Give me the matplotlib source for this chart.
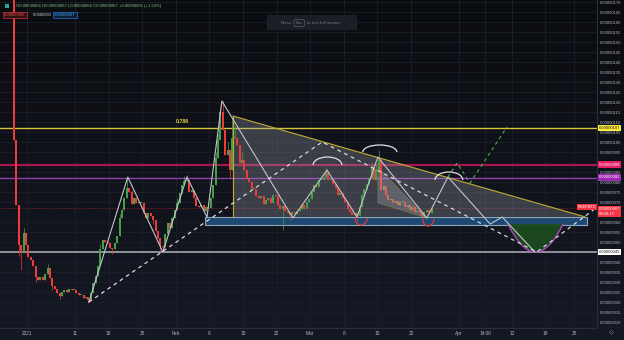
import numpy as np
import matplotlib
matplotlib.use("Agg")
import matplotlib.pyplot as plt
from matplotlib.patches import Arc, Rectangle, Polygon, PathPatch
from matplotlib.path import Path
from matplotlib.colors import LinearSegmentedColormap

plt.rcParams["font.family"] = ["Liberation Sans", "DejaVu Sans"]

W, H = 624, 340

# prices in units of 1e-8 BTC, time in days since 1 Jan 2021 (12h candles)
t_start = -2.7
open0 = 180
close = [101, 68.5, 48.5, 45, 54.5, 48.5, 42.5, 41, 38, 32.5,
         31, 32.5, 31, 34, 37, 32, 28, 26.5, 24.5, 23,
         25, 26, 25, 26.5, 26, 26, 24.5, 23.5, 23.5, 22,
         22.5, 21, 24.5, 29.5, 33, 38, 46.5, 51, 50, 49.5,
         47, 46.5, 49.5, 53, 62, 66, 72, 77, 75, 69,
         72, 69.5, 69.5, 69.5, 64.5, 62, 64.5, 63, 61, 55.5,
         52, 48, 47.5, 54, 59.5, 57, 62, 66, 69.5, 74.5,
         78.5, 80.5, 81, 75, 76, 72, 68, 67.5, 68.5, 65.5,
         67.5, 67, 72, 78.5, 92, 101, 115, 106, 93.5, 96,
         86, 102, 102, 98.5, 89.5, 91, 86, 81.5, 80, 76.5,
         76.5, 73, 72, 73, 69, 71, 72, 69.5, 73.5, 73,
         68.5, 66.5, 68, 65.5, 64.5, 63.5, 65, 64, 65.5, 66.5,
         68.5, 66.5, 70, 71.5, 75, 78.5, 77.5, 81, 81, 82.5,
         85, 81, 81, 79, 77, 73.5, 74.5, 72, 70, 66.5,
         65, 63.5, 64.5, 63, 67.5, 73.5, 76.5, 79, 82, 87.5,
         81, 86.5, 91, 76, 78, 73.5, 71, 71.5, 69.5, 70.5,
         68.5, 70, 70, 67.5, 68.5, 66, 67.5, 65, 65.5, 64.5,
         63, 65, 66, 64.5, 67]
wick_hi = {0: 186, 1: 100, 4: 57, 14: 39, 36: 49, 44: 64, 47: 82.5, 49: 76,
           68: 72, 71: 83, 72: 83.5, 84: 95, 85: 104, 86: 117, 87: 120.5,
           89: 100, 91: 112, 92: 108, 95: 95, 129: 84, 130: 87.5, 149: 90,
           151: 89, 152: 96, 153: 92, 163: 70, 174: 67.5}
wick_lo = {2: 43, 3: 36, 9: 30, 16: 26, 19: 21.5, 31: 19.5, 41: 44, 58: 59,
           61: 46, 62: 44.5, 90: 82, 112: 56, 115: 61, 143: 60.5, 170: 61.5}

# horizontal levels
level_price = [107, 88.75, 82.25, 45]
level_color = ["#d6c53a", "#a8174c", "#8e3fb0", "#9a9da6"]
level_width = [1.0, 1.6, 1.0, 1.3]
level_label = ["0.00000107", "0.00000088", "0.00000082", "0.00000045"]
level_label_bg = ["#ffeb3b", "#e91e63", "#9c27b0", "#ffffff"]
level_label_fg = ["#131722", "#ffffff", "#ffffff", "#131722"]
last_price = 67

# drawings
zz_day = [12.9, 21.0, 28.3, 33.3, 37.5, 40.6, 55.4, 62.5, 68.75, 73.1, 83.3,
          87.7, 96.5, 99.0, 105.8]
zz_price = [20, 82.5, 45, 82.5, 62.5, 120.5, 62, 86, 62.5, 92.5, 62, 82.5,
            59, 62.5, 45]
dash_day = [12.9, 61.5, 106.2, 118.0]
dash_price = [20, 100, 45, 66]
green_day = [87.7, 89.6, 92.3, 100.0]
green_price = [82.5, 89.5, 79.5, 107.5]
tri_day = [42.9, 116.2, 42.9]
tri_price = [113, 62.6, 62.6]
wedge_day = [73.1, 83.3, 73.1]
wedge_price = [87.5, 62, 69.5]
box_day = [37.1, 116.7]
box_price = [58.75, 62.75]
cup_day = [100.2, 105.9, 111.7]
cup_price = [59, 31, 59]
top_arcs = [(62.6, 88.5, 6.0, 8.0), (73.5, 95.0, 7.1, 7.0), (87.9, 81.0, 5.8, 8.0)]
low_arcs = [(69.6, 62.0, 2.5, 7.0), (83.6, 61.5, 2.3, 7.0)]

tick_days = [0, 10, 17, 24, 31, 38, 45, 52, 59, 66, 73, 80, 90, 95.5, 101, 108, 114]
tick_text = ["2021", "11", "18", "25", "Feb", "8", "15", "22", "Mar", "8", "15",
             "22", "Apr", "14:00", "12", "19", "25"]

GREEN, RED = "#43a047", "#ef3b3b"
TXT = "#b2b5be"

fig = plt.figure(figsize=(W / 100, H / 100), dpi=100)

# background gradient
bg = fig.add_axes([0, 0, 1, 1], zorder=-5)
cmap = LinearSegmentedColormap.from_list("bg", ["#0b0c10", "#151924"])
bg.imshow(np.linspace(0, 1, 256).reshape(-1, 1), aspect="auto", cmap=cmap,
          extent=[0, 1, 0, 1], origin="upper")
bg.set_axis_off()

ax = fig.add_axes([0, 12 / H, 597 / W, 328 / H])
ax.set_facecolor("none")
ax.set_xlim(-5.625, 118.75)
ax.set_ylim(7, 171)
for s in ax.spines.values():
    s.set_visible(False)
ax.axhline(7, color="#2a2e39", lw=0.8, clip_on=False)
ax.axvline(118.75, color="#2a2e39", lw=0.8, clip_on=False)

# price scale: skip the ticks hidden under the coloured level tags
yticks = [v for v in range(10, 171, 5)
          if min(abs(v - p) for p in level_price + [last_price - 1.6]) > 1.6]
ax.set_yticks(yticks)
ax.yaxis.tick_right()
ax.yaxis.set_major_formatter(plt.FuncFormatter(lambda v, p: "0.%08d" % round(v)))
ax.tick_params(axis="y", length=0, pad=2.2, labelsize=3.0, labelcolor=TXT)
ax.set_xticks(tick_days)
ax.set_xticklabels(tick_text)
ax.tick_params(axis="x", length=0, pad=2.5, labelsize=3.4, labelcolor=TXT)
ax.grid(True, color="#1c1f29", lw=0.6)
ax.set_axisbelow(True)

# levels
for p, col, lw in zip(level_price, level_color, level_width):
    ax.axhline(p, color=col, lw=lw, zorder=2)
ax.axhline(last_price, color="#8c2323", lw=0.7, ls=(0, (1, 1.5)), zorder=2)

# triangle and box
ax.add_patch(Polygon(list(zip(tri_day, tri_price)), closed=True, fc="#9598a1",
                     alpha=0.33, ec="none", zorder=3))
ax.plot(tri_day[:2], tri_price[:2], color="#bfae32", lw=0.8, zorder=6)
ax.plot([tri_day[0], tri_day[2]], [tri_price[0], tri_price[2]], color="#bfae32",
        lw=0.8, zorder=6)
ax.add_patch(Rectangle((box_day[0], box_price[0]), box_day[1] - box_day[0],
                       box_price[1] - box_price[0], fc="#1f4f7d", ec="#9fb4c9",
                       lw=0.8, alpha=0.9, zorder=4))

# candles
c = np.array(close, dtype=float)
o = np.r_[open0, c[:-1]]
t = t_start + 0.5 * np.arange(len(c))
hi = np.maximum(o, c)
lo = np.minimum(o, c)
for k, v in wick_hi.items():
    hi[k] = max(hi[k], v)
for k, v in wick_lo.items():
    lo[k] = min(lo[k], v)
cols = np.where(c >= o, GREEN, RED)
ax.vlines(t, lo, hi, colors=cols, lw=0.5, zorder=5)
ax.bar(t, np.maximum(np.abs(c - o), 0.5), bottom=np.minimum(o, c), width=0.4,
       color=cols, lw=0, zorder=5)

# small falling wedge
ax.add_patch(Polygon(list(zip(wedge_day, wedge_price)), closed=True,
                     fc="#c8cad0", alpha=0.25, ec="#bfae32", lw=0.7, zorder=6))

# cup
verts = list(zip(cup_day, cup_price))
cup = Path(verts, [Path.MOVETO, Path.CURVE3, Path.CURVE3])
ax.add_patch(PathPatch(cup, fc="#1b4a1f", ec="none", alpha=0.95, zorder=4.5))
ax.add_patch(PathPatch(cup, fc="none", ec="#ab47bc", lw=1.0, zorder=7))

# zigzag + dashed projections
ax.plot(zz_day, zz_price, color="#c3c5cc", lw=0.8, zorder=7)
ax.plot(dash_day, dash_price, color="#d8dae0", lw=0.9, ls=(0, (3, 3)), zorder=7)
ax.plot(green_day, green_price, color="#4caf50", lw=0.8, ls=(0, (3, 3)), zorder=7)
for x, y, w, h in top_arcs:
    ax.add_patch(Arc((x, y), w, h, theta1=0, theta2=180, color="#e0e2e8",
                     lw=0.9, zorder=7))
for x, y, w, h in low_arcs:
    ax.add_patch(Arc((x, y), w, h, theta1=180, theta2=360, color="#e53935",
                     lw=0.9, zorder=7))

ax.text(32.4, 110.2, "0.786", color="#e6d43c", fontsize=3.8, fontweight="bold",
        ha="center", va="center", zorder=8)

# right scale labels
yt = ax.get_yaxis_transform()
for p, s, bgc, fg in zip(level_price, level_label, level_label_bg, level_label_fg):
    ax.text(1.003, p, s, transform=yt, fontsize=3.0, color=fg, va="center",
            ha="left", clip_on=False, zorder=10,
            bbox=dict(boxstyle="square,pad=0.25", fc=bgc, ec="none"))
ax.text(1.003, last_price - 1.6, "0.00000067\n09:43:17", transform=yt,
        fontsize=3.0, color="white", va="center", ha="left", clip_on=False,
        zorder=10, linespacing=1.25,
        bbox=dict(boxstyle="square,pad=0.25", fc="#f23645", ec="none"))
ax.text(116.7, last_price + 0.3, "REEFBTC", fontsize=2.9, color="white",
        va="center", ha="center", zorder=10,
        bbox=dict(boxstyle="square,pad=0.25", fc="#f23645", ec="none"))

# header
fig.patches.append(Rectangle((5 / W, 1 - 8 / H), 4 / W, 4 / H, fc="#26a69a",
                             transform=fig.transFigure))
fig.text(16 / W, 1 - 6 / H, "O0.00000066 H0.00000067 L0.00000066 C0.00000067 "
         "+0.00000001 (+1.52%)", fontsize=3.1, color="#7cc98a", va="center")
fig.text(4 / W, 1 - 15 / H, "0.00000066", fontsize=3.0, color="#ef5350",
         va="center", bbox=dict(boxstyle="square,pad=0.3", fc="#2a1216",
                                ec="#c62828", lw=0.6))
fig.text(33 / W, 1 - 15 / H, "0.0000001", fontsize=3.0, color="#d1d4dc",
         va="center")
fig.text(54 / W, 1 - 15 / H, "0.00000067", fontsize=3.0, color="#42a5f5",
         va="center", bbox=dict(boxstyle="square,pad=0.3", fc="#0f1e33",
                                ec="#1e63b0", lw=0.6))

# full-screen hint
fig.patches.append(Rectangle((267 / W, 1 - 30 / H), 90 / W, 15 / H,
                             fc="#1b1e27", ec="none", transform=fig.transFigure))
fig.text(281 / W, 1 - 23 / H, "Press", fontsize=3.2, color="#787b86", va="center")
fig.text(295.5 / W, 1 - 23 / H, "Esc", fontsize=3.2, color="#787b86", va="center",
         bbox=dict(boxstyle="round,pad=0.35", fc="none", ec="#5d606b", lw=0.5))
fig.text(307 / W, 1 - 23 / H, "to exit full screen", fontsize=3.2,
         color="#787b86", va="center")

fig.text(611 / W, 1 - 333 / H, "\u25c7", fontsize=4.5, color=TXT, ha="center",
         va="center", family="DejaVu Sans")

fig.savefig("out.png", dpi=100)
